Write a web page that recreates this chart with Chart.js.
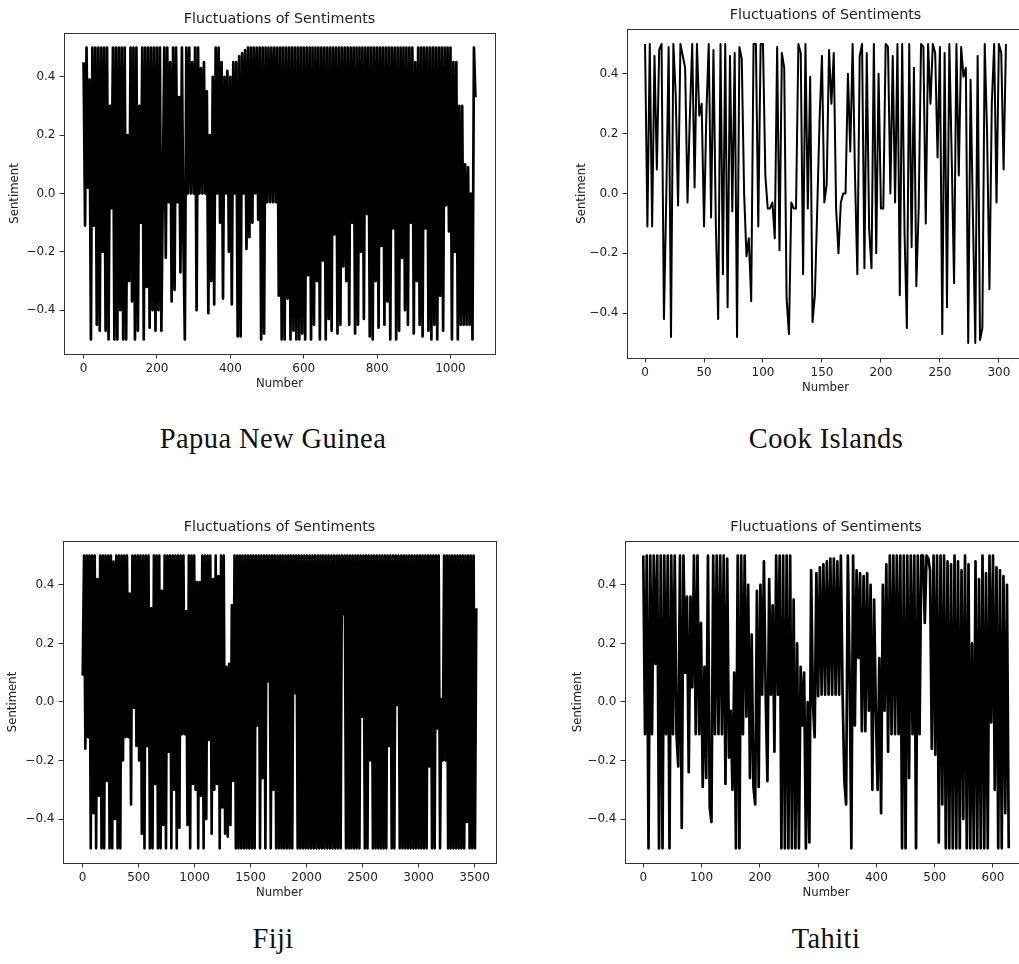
<!DOCTYPE html>
<html lang="en">
<head>
  <meta charset="UTF-8" />
  <title>Fluctuations of Sentiments</title>
  <script src="https://cdn.jsdelivr.net/npm/chart.js"></script>
  <style>
    html, body { margin: 0; padding: 0; background: #fff; }
    body { width: 1019px; height: 964px; position: relative; overflow: hidden; }
    canvas { position: absolute; }
    .pais {
      position: absolute; width: 300px; margin-left: -150px; height: 30px; line-height: 30px;
      text-align: center; font-family: 'Liberation Serif', serif; font-size: 28.5px;
      letter-spacing: 0.4px; color: #111;
    }
  </style>
</head>
<body>
<canvas id="graficoPapua"></canvas>
<canvas id="graficoCook"></canvas>
<canvas id="graficoFiji"></canvas>
<canvas id="graficoTahiti"></canvas>

<div class="pais" style="left: 273px; top: 424px;">Papua New Guinea</div>
<div class="pais" style="left: 826px; top: 424px;">Cook Islands</div>
<div class="pais" style="left: 273px; top: 924px;">Fiji</div>
<div class="pais" style="left: 826px; top: 924px;">Tahiti</div>

<script>
// ticks
const ticksSentimiento = [-0.4, -0.2, 0, 0.2, 0.4];
const ticksPapua = [0, 200, 400, 600, 800, 1000];
const ticksCook = [0, 50, 100, 150, 200, 250, 300];
const ticksFiji = [0, 500, 1000, 1500, 2000, 2500, 3000, 3500];
const ticksTahiti = [0, 100, 200, 300, 400, 500, 600];

// sentiment, one value every `paso` numbers
const pasoPapua = 4;
const sentimientoPapua = [
  0.45, -0.11, 0.5, 0.02, 0.39, -0.5, 0.5, -0.11, 0.5, -0.45,
  0.5, -0.47, 0.5, -0.2, 0.5, -0.47, 0.5, -0.5, 0.3, -0.05,
  0.5, -0.5, 0.5, -0.5, 0.5, -0.4, 0.5, -0.5, 0.5, -0.5,
  0.2, -0.3, 0.5, -0.37, 0.5, -0.5, 0.5, -0.47, 0.3, -0.1,
  0.5, -0.5, 0.5, -0.32, 0.5, -0.46, 0.5, -0.4, 0.5, -0.47,
  0.5, -0.4, 0.5, -0.47, 0.02, 0.5, -0.22, 0.5, -0.03, 0.45,
  -0.37, 0.5, -0.33, 0.5, -0.03, 0.33, -0.27, 0.5, -0.15, -0.5,
  0.5, 0.0, 0.5, 0.0, 0.45, 0.0, 0.5, -0.4, 0.5, 0.0,
  0.43, 0.0, 0.45, 0.0, 0.35, -0.41, 0.2, -0.3, 0.4, -0.38,
  0.5, 0.0, 0.5, -0.1, 0.45, -0.36, 0.4, 0.0, 0.42, -0.2,
  0.4, -0.38, 0.45, 0.0, 0.45, -0.49, 0.47, -0.49, 0.48, 0.0,
  0.49, -0.19, 0.5, -0.15, 0.5, -0.1, 0.5, 0.0, 0.5, -0.09,
  0.5, -0.5, 0.5, -0.48, 0.5, -0.03, 0.5, -0.03, 0.5, -0.03,
  0.5, -0.03, 0.5, -0.35, 0.5, -0.5, 0.5, -0.5, 0.5, -0.36,
  0.5, -0.5, 0.5, -0.47, 0.5, -0.5, 0.5, -0.5, 0.5, -0.48,
  0.5, -0.5, 0.5, -0.28, 0.5, -0.5, 0.5, -0.45, 0.5, -0.3,
  0.5, -0.5, 0.5, -0.23, 0.5, -0.5, 0.5, -0.43, 0.5, -0.47,
  0.5, -0.14, 0.5, -0.48, 0.5, -0.45, 0.5, -0.25, 0.5, -0.3,
  0.5, -0.45, 0.5, -0.1, 0.5, -0.48, 0.5, -0.45, 0.5, -0.2,
  0.5, -0.43, 0.5, -0.07, 0.5, -0.49, 0.5, -0.5, 0.5, -0.3,
  0.5, -0.46, 0.5, -0.18, 0.5, -0.45, 0.5, -0.37, 0.5, -0.5,
  0.5, -0.12, 0.5, -0.5, 0.5, -0.47, 0.5, -0.22, 0.5, -0.4,
  0.5, -0.45, 0.5, -0.1, 0.5, -0.48, 0.45, -0.3, 0.5, -0.45,
  0.5, -0.49, 0.5, -0.12, 0.5, -0.47, 0.5, -0.5, 0.5, -0.45,
  0.5, -0.5, 0.5, -0.35, 0.5, -0.47, 0.5, -0.04, 0.5, -0.13,
  0.5, -0.5, 0.45, -0.2, 0.45, -0.5, 0.3, -0.45, 0.3, -0.45,
  0.1, -0.45, 0.09, -0.45, 0.0, -0.5, 0.5, 0.33
];

const pasoCook = 2;
const sentimientoCook = [
  0.5, -0.11, 0.5, -0.11, 0.46, 0.08, 0.48, 0.5, -0.42, -0.01,
  0.49, -0.48, 0.5, 0.33, -0.04, 0.5, 0.46, 0.42, -0.03, 0.26,
  0.5, 0.02, 0.5, 0.26, 0.3, -0.11, 0.27, 0.5, -0.08, 0.48,
  -0.1, -0.42, 0.5, -0.27, 0.5, -0.38, 0.46, -0.06, 0.47, -0.48,
  0.49, 0.45, 0.0, -0.21, -0.15, -0.36, 0.5, 0.5, -0.11, 0.5,
  0.5, 0.06, -0.05, -0.05, -0.03, -0.15, 0.49, -0.19, 0.47, 0.42,
  -0.35, -0.47, -0.03, -0.05, -0.05, 0.5, 0.47, -0.27, 0.5, -0.05,
  0.39, -0.43, -0.34, -0.05, 0.25, 0.46, -0.03, 0.03, 0.48, 0.3,
  0.47, -0.05, -0.2, -0.03, 0.0, 0.0, 0.4, 0.14, 0.5, 0.06,
  -0.27, 0.46, 0.5, -0.25, 0.47, -0.12, -0.25, 0.5, -0.2, 0.4,
  -0.05, -0.05, 0.5, 0.49, 0.0, 0.46, -0.03, 0.5, -0.34, 0.5,
  -0.13, -0.45, 0.5, -0.18, 0.42, -0.31, -0.05, 0.5, 0.49, -0.1,
  0.5, 0.3, 0.5, 0.47, 0.12, 0.49, -0.47, 0.47, -0.38, 0.5,
  0.12, -0.3, 0.5, 0.06, 0.49, 0.39, 0.42, -0.5, 0.38, -0.08,
  -0.5, 0.46, -0.49, -0.45, 0.5, 0.2, -0.32, 0.3, 0.5, -0.03,
  0.5, 0.47, 0.08, 0.5
];

const pasoFiji = 12;
const sentimientoFiji = [
  0.09, 0.5, -0.16, 0.5, -0.12, 0.5, -0.5, 0.5, -0.38, 0.5,
  -0.5, 0.42, -0.32, 0.5, -0.5, 0.5, -0.5, 0.5, -0.27, 0.5,
  -0.5, 0.5, -0.5, 0.48, -0.4, 0.5, -0.5, 0.5, -0.5, 0.5,
  -0.2, 0.5, -0.12, 0.5, -0.12, 0.37, -0.35, 0.5, -0.02, 0.5,
  -0.15, 0.5, -0.2, 0.5, -0.45, 0.5, -0.5, 0.5, -0.15, 0.5,
  -0.5, 0.32, -0.5, 0.5, -0.28, 0.5, -0.5, 0.5, -0.5, 0.38,
  -0.42, 0.5, -0.5, 0.5, -0.17, 0.5, -0.5, 0.5, -0.3, 0.5,
  -0.5, 0.5, -0.43, 0.5, -0.11, 0.5, -0.11, 0.31, -0.42, 0.5,
  -0.5, 0.5, -0.28, 0.5, -0.3, 0.41, -0.5, 0.41, -0.32, 0.5,
  -0.5, 0.5, -0.4, 0.5, -0.13, 0.5, -0.45, 0.42, -0.3, 0.5,
  -0.28, 0.43, -0.5, 0.5, -0.36, 0.5, -0.45, 0.12, -0.46, 0.13,
  -0.42, 0.33, -0.27, 0.5, -0.5, 0.5, -0.5, 0.5, -0.5, 0.5,
  -0.5, 0.5, -0.5, 0.5, -0.5, 0.5, -0.5, 0.5, -0.5, 0.5,
  -0.08, 0.5, -0.5, 0.5, -0.26, 0.5, -0.5, 0.5, 0.07, 0.5,
  -0.5, 0.5, -0.3, 0.5, -0.5, 0.5, -0.5, 0.5, -0.5, 0.5,
  -0.5, 0.5, -0.5, 0.5, -0.5, 0.5, -0.5, 0.5, 0.03, 0.5,
  -0.5, 0.5, -0.5, 0.5, -0.5, 0.5, -0.5, 0.5, -0.5, 0.5,
  -0.5, 0.5, -0.5, 0.5, -0.5, 0.5, -0.5, 0.5, -0.5, 0.5,
  -0.5, 0.5, -0.5, 0.5, -0.5, 0.5, -0.5, 0.5, -0.5, 0.5,
  -0.5, 0.5, -0.5, 0.5, 0.3, 0.5, -0.5, 0.5, -0.5, 0.5,
  -0.5, 0.5, -0.5, 0.5, -0.5, 0.5, -0.5, 0.5, -0.05, 0.5,
  -0.5, 0.5, -0.5, 0.5, -0.2, 0.5, -0.5, 0.5, -0.5, 0.5,
  -0.5, 0.5, -0.5, 0.5, -0.5, 0.5, -0.5, 0.5, -0.15, 0.5,
  -0.5, 0.5, -0.5, 0.5, -0.01, 0.5, -0.5, 0.5, -0.5, 0.5,
  -0.5, 0.5, -0.5, 0.5, -0.5, 0.5, -0.5, 0.5, -0.5, 0.5,
  -0.5, 0.5, -0.5, 0.5, -0.5, 0.5, -0.5, 0.5, -0.22, 0.5,
  -0.5, 0.5, -0.5, 0.5, -0.09, 0.5, -0.5, 0.01, -0.2, 0.5,
  -0.2, 0.5, -0.5, 0.5, -0.5, 0.5, -0.5, 0.5, -0.5, 0.5,
  -0.5, 0.5, -0.5, 0.5, -0.5, 0.5, -0.41, 0.5, -0.5, 0.5,
  -0.5, 0.5, -0.5, 0.32
];

const pasoTahiti = 3;
const sentimientoTahiti = [
  0.5, -0.11, 0.5, -0.5, 0.5, -0.11, 0.5, 0.13, 0.5, -0.5,
  0.5, -0.5, 0.5, -0.11, 0.5, -0.5, 0.5, -0.11, 0.5, -0.11,
  -0.22, 0.5, -0.43, 0.5, 0.1, 0.36, -0.24, 0.36, 0.05, 0.5,
  -0.11, 0.5, -0.11, 0.27, -0.29, 0.12, -0.26, 0.5, -0.36, -0.41,
  0.5, -0.11, 0.5, -0.11, 0.5, -0.11, 0.5, -0.28, 0.49, -0.19,
  -0.03, -0.3, 0.1, -0.5, 0.5, -0.5, 0.5, -0.11, 0.5, -0.05,
  0.4, -0.26, 0.23, -0.29, -0.35, 0.38, -0.29, 0.4, 0.025, 0.48,
  0.025, -0.27, 0.42, 0.025, 0.33, -0.17, 0.5, 0.025, 0.5, -0.5,
  0.5, -0.5, 0.5, -0.5, 0.5, -0.5, 0.35, -0.5, 0.2, -0.5,
  0.12, -0.08, 0.1, -0.5, 0.0, -0.48, 0.45, 0.0, -0.12, 0.44,
  0.02, 0.46, 0.025, 0.47, 0.025, 0.48, 0.025, 0.49, 0.025, 0.49,
  0.025, 0.48, 0.025, 0.5, 0.025, -0.27, -0.35, 0.5, 0.1, -0.5,
  0.5, -0.08, 0.45, 0.15, 0.44, -0.1, 0.43, -0.1, 0.44, -0.03,
  0.4, -0.3, 0.35, -0.03, -0.3, 0.15, -0.38, 0.4, -0.03, 0.47,
  -0.17, 0.5, -0.11, 0.5, -0.11, 0.5, -0.11, 0.5, -0.5, 0.5,
  -0.5, 0.5, -0.26, 0.5, -0.11, 0.5, -0.5, 0.5, -0.11, 0.5,
  0.5, 0.27, 0.5, 0.49, 0.45, -0.16, 0.5, -0.18, 0.5, -0.48,
  0.5, -0.35, 0.5, -0.5, 0.48, -0.5, 0.47, -0.5, 0.5, -0.5,
  0.48, -0.5, 0.45, -0.4, 0.5, -0.5, 0.47, -0.5, 0.2, -0.5,
  0.48, -0.5, 0.42, -0.5, 0.5, -0.5, 0.44, -0.5, 0.5, -0.07,
  0.5, -0.3, 0.46, -0.5, 0.45, -0.5, 0.43, -0.38, 0.4, -0.5
];

// where each panel sits on the page; grosor = line width standing in for the dense trace
const cajas = {
  papua:  { x: 0,   y: 0,   w: 505, h: 394, ejeY: 64, tTop: 10.9, tBottom: 4.9, sTop: 8,    grosor: 2.7 },
  cook:   { x: 563, y: 0,   w: 471, h: 398, ejeY: 64, tTop: 6.4,  tBottom: 5.4, sTop: 11.7, grosor: 2.0 },
  fiji:   { x: 0,   y: 500, w: 506, h: 403, ejeY: 63, tTop: 18.7, tBottom: 5.1, sTop: 6.3,  grosor: 2.6 },
  tahiti: { x: 561, y: 500, w: 476, h: 403, ejeY: 64, tTop: 18.7, tBottom: 5.1, sTop: 10.3, grosor: 2.7 }
};

const fuente = 'DejaVu Sans';
const colorTexto = '#222';
const colorEje = '#333';

// matplotlib style closed frame round the plot
const marco = {
  id: 'marco',
  afterDraw(chart) {
    const { ctx, chartArea: a } = chart;
    ctx.save();
    ctx.strokeStyle = colorEje;
    ctx.lineWidth = 1;
    ctx.strokeRect(Math.round(a.left) + 0.5, Math.round(a.top) + 0.5,
      Math.round(a.right) - Math.round(a.left), Math.round(a.bottom) - Math.round(a.top));
    ctx.restore();
  }
};

function dibujar(id, valores, paso, ticksX, caja) {
  const puntos = valores.map((v, i) => ({ x: i * paso, y: v }));
  const ultimo = (valores.length - 1) * paso;
  const canvas = document.getElementById(id);
  canvas.width = caja.w;
  canvas.height = caja.h;
  canvas.style.left = caja.x + 'px';
  canvas.style.top = caja.y + 'px';

  new Chart(canvas, {
    type: 'line',
    data: {
      datasets: [{
        data: puntos,
        borderColor: '#000',
        borderWidth: caja.grosor,
        borderJoinStyle: 'round',
        pointRadius: 0,
        tension: 0,
        fill: false
      }]
    },
    options: {
      responsive: false,
      animation: false,
      devicePixelRatio: 1,
      events: [],
      layout: { padding: { left: 0, right: 10, top: 0, bottom: 0 } },
      plugins: {
        legend: { display: false },
        tooltip: { enabled: false },
        title: {
          display: true,
          fullSize: false,
          text: 'Fluctuations of Sentiments',
          color: colorTexto,
          font: { family: fuente, size: 14.3, weight: 'normal' },
          padding: { top: caja.tTop, bottom: caja.tBottom }
        }
      },
      scales: {
        x: {
          type: 'linear',
          min: -0.05 * ultimo,
          max: 1.05 * ultimo,
          afterBuildTicks: s => { s.ticks = ticksX.map(v => ({ value: v })); },
          afterFit: s => { s.height = 40; },
          ticks: {
            color: colorTexto, font: { family: fuente, size: 12 }, padding: 3,
            autoSkip: false, maxRotation: 0, callback: v => String(v)
          },
          grid: { display: true, drawOnChartArea: false, drawTicks: true, tickLength: 4.5, tickColor: colorEje, tickWidth: 1 },
          border: { display: false },
          title: {
            display: true, text: 'Number', color: colorTexto,
            font: { family: fuente, size: 11.7 }, padding: { top: 0, bottom: 3 }
          }
        },
        y: {
          min: -0.55,
          max: 0.55,
          afterBuildTicks: s => { s.ticks = ticksSentimiento.map(v => ({ value: v })); },
          afterFit: s => { s.width = caja.ejeY; },
          ticks: {
            color: colorTexto, font: { family: fuente, size: 12 }, padding: 4,
            callback: v => v.toFixed(1).replace('-', '\u2212')
          },
          grid: { display: true, drawOnChartArea: false, drawTicks: true, tickLength: 4.5, tickColor: colorEje, tickWidth: 1 },
          border: { display: false },
          title: {
            display: true, text: 'Sentiment', color: colorTexto,
            font: { family: fuente, size: 11.7 }, padding: { top: caja.sTop, bottom: 0 }
          }
        }
      }
    },
    plugins: [marco]
  });
}

dibujar('graficoPapua', sentimientoPapua, pasoPapua, ticksPapua, cajas.papua);
dibujar('graficoCook', sentimientoCook, pasoCook, ticksCook, cajas.cook);
dibujar('graficoFiji', sentimientoFiji, pasoFiji, ticksFiji, cajas.fiji);
dibujar('graficoTahiti', sentimientoTahiti, pasoTahiti, ticksTahiti, cajas.tahiti);
</script>
</body>
</html>
